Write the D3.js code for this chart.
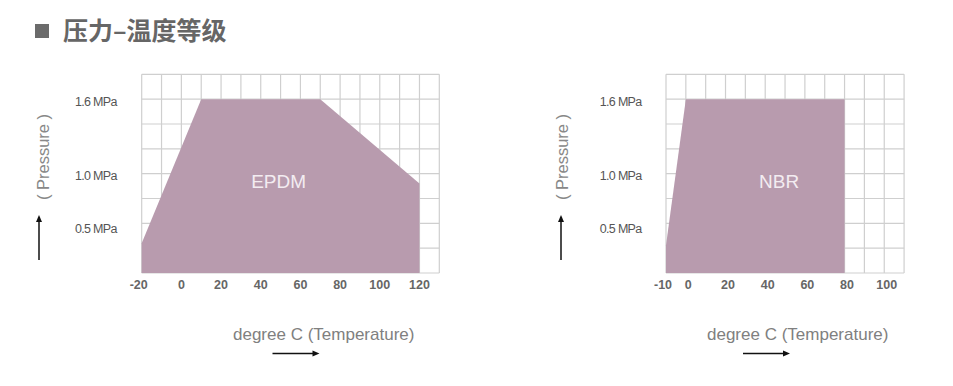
<!DOCTYPE html>
<html>
<head>
<meta charset="utf-8">
<script src="https://cdn.jsdelivr.net/npm/d3@7"></script>
<style>
  body { margin: 0; background: #fff; }
  svg { display: block; }
</style>
</head>
<body>
<div id="chart"></div>
<script>
// chart data
var titleText = "压力–温度等级";
var xLabelText = "degree C (Temperature)";
var yLabelText = "( Pressure )";

var epdmTemps = [-20, -20, 10, 70, 120, 120];
var epdmPress = [0, 0.3, 1.6, 1.6, 0.9, 0];
var epdmTicks = [-20, 0, 20, 40, 60, 80, 100, 120];

var nbrTemps = [-10, -10, 0, 80, 80];
var nbrPress = [0, 0.28, 1.6, 1.6, 0];
var nbrTicks = [-10, 0, 20, 40, 60, 80, 100];

var pressureTicks = [0.5, 1.0, 1.6];
var pressureLabels = ["0.5 MPa", "1.0 MPa", "1.6 MPa"];
var pressureGrid = [0, 0.25, 0.5, 0.75, 1.0, 1.2, 1.4, 1.6, 1.8];

var svgWidth = 953;
var svgHeight = 386;

var svg = d3.select("#chart")
  .append("svg")
  .attr("width", svgWidth)
  .attr("height", svgHeight);

// title
svg.append("rect")
  .attr("x", 35).attr("y", 24)
  .attr("width", 14).attr("height", 14)
  .attr("fill", "#6b6b6b");

svg.append("text")
  .attr("x", 63).attr("y", 40)
  .attr("font-family", "'Noto Sans CJK SC', sans-serif")
  .attr("font-weight", "bold")
  .attr("font-size", 25)
  .attr("fill", "#666")
  .text(titleText);

var rowH = 198.7 / 8;
var colW = 19.84;

function drawChart(cfg) {
  var w = (cfg.domain[1] - cfg.domain[0]) / 10 * colW;
  var h = rowH * 8;

  var g = svg.append("g")
    .attr("transform", `translate(${cfg.left}, 74.3)`);

  var x = d3.scaleLinear().domain(cfg.domain).range([0, w]);
  // schematic pressure scale, rows are not evenly spaced in MPa
  var y = d3.scaleLinear()
    .domain([0, 0.5, 1.0, 1.6, 1.8])
    .range([h, h - 2 * rowH, h - 4 * rowH, h - 7 * rowH, 0]);

  // grid
  g.append("g").selectAll("line")
    .data(d3.range(cfg.domain[0], cfg.domain[1] + 1, 10))
    .enter().append("line")
    .attr("x1", d => x(d)).attr("x2", d => x(d))
    .attr("y1", 0).attr("y2", h)
    .attr("stroke", "#cfcfcf").attr("stroke-width", 1.2);

  g.append("g").selectAll("line")
    .data(pressureGrid)
    .enter().append("line")
    .attr("x1", 0).attr("x2", w)
    .attr("y1", d => y(d)).attr("y2", d => y(d))
    .attr("stroke", "#cfcfcf").attr("stroke-width", 1.2);

  // rating area
  var pts = cfg.temps.map((t, i) => [x(t), y(cfg.press[i])]);
  g.append("path")
    .attr("d", d3.line()(pts) + "Z")
    .attr("fill", "#b89bae");

  g.append("text")
    .attr("x", x(cfg.nameAt))
    .attr("y", y(1.0) + 14.5)
    .attr("text-anchor", "middle")
    .attr("font-family", "'Liberation Sans', Arial, sans-serif")
    .attr("font-size", 19)
    .attr("fill", "#f3ecf1")
    .text(cfg.name);

  // x tick labels
  g.append("g").selectAll("text")
    .data(cfg.ticks)
    .enter().append("text")
    .attr("x", d => x(d) + (d < 0 ? -3 : cfg.tickDx))
    .attr("y", h + 16.5)
    .attr("text-anchor", "middle")
    .attr("font-family", "'Liberation Sans', Arial, sans-serif")
    .attr("font-weight", "bold")
    .attr("font-size", 12.5)
    .attr("fill", "#666")
    .text(d => d);

  // y tick labels, the 0.5 label sits a little under its row line
  g.append("g").selectAll("text")
    .data(pressureTicks)
    .enter().append("text")
    .attr("x", -cfg.yLabelGap)
    .attr("y", d => y(d) + (d < 1 ? 9.5 : 6.5))
    .attr("text-anchor", "end")
    .attr("font-family", "'Liberation Sans', Arial, sans-serif")
    .attr("font-size", 12.5)
    .attr("letter-spacing", -0.7)
    .attr("fill", "#555")
    .text((d, i) => pressureLabels[i]);

  // axis titles and arrows
  svg.append("text")
    .attr("transform", `translate(${cfg.yTitleX}, 157) rotate(-90)`)
    .attr("text-anchor", "middle")
    .attr("font-family", "'Liberation Sans', Arial, sans-serif")
    .attr("font-size", 16.5)
    .attr("fill", "#888")
    .text(yLabelText);

  svg.append("line")
    .attr("x1", cfg.yArrowX).attr("x2", cfg.yArrowX)
    .attr("y1", 260).attr("y2", 219)
    .attr("stroke", "#111").attr("stroke-width", 1.5);
  svg.append("path")
    .attr("d", `M${cfg.yArrowX - 3},222 L${cfg.yArrowX},215 L${cfg.yArrowX + 3},222 Z`)
    .attr("fill", "#111");

  svg.append("text")
    .attr("x", cfg.xTitleX)
    .attr("y", 339.5)
    .attr("font-family", "'Liberation Sans', Arial, sans-serif")
    .attr("font-size", 17)
    .attr("fill", "#808080")
    .text(xLabelText);

  svg.append("line")
    .attr("x1", cfg.xArrowX).attr("x2", cfg.xArrowX + 42)
    .attr("y1", 353.5).attr("y2", 353.5)
    .attr("stroke", "#111").attr("stroke-width", 1.5);
  svg.append("path")
    .attr("d", `M${cfg.xArrowX + 40},350.5 L${cfg.xArrowX + 47},353.5 L${cfg.xArrowX + 40},356.5 Z`)
    .attr("fill", "#111");
}

drawChart({
  name: "EPDM", nameAt: 49,
  temps: epdmTemps, press: epdmPress, ticks: epdmTicks,
  domain: [-20, 130], left: 141.7, tickDx: 0, yLabelGap: 25,
  yTitleX: 49, yArrowX: 39, xTitleX: 233, xArrowX: 272.5
});

drawChart({
  name: "NBR", nameAt: 47,
  temps: nbrTemps, press: nbrPress, ticks: nbrTicks,
  domain: [-10, 110], left: 666, tickDx: 2.5, yLabelGap: 24.5,
  yTitleX: 567.5, yArrowX: 561, xTitleX: 707, xArrowX: 743
});
</script>
</body>
</html>
